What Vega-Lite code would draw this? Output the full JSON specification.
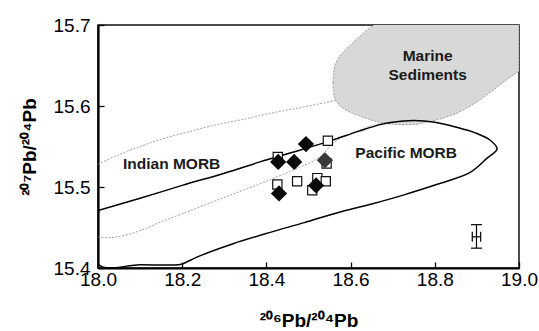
{
  "$schema": "https://vega.github.io/schema/vega-lite/v6.json",
  "width": 421,
  "height": 243,
  "autosize": {"type": "none"},
  "padding": {"left": 98, "top": 25, "right": 20, "bottom": 63},
  "background": "white",
  "config": {
    "view": {"stroke": "#111", "strokeWidth": 1.5},
    "axis": {
      "grid": false,
      "domainColor": "#000",
      "domainWidth": 2.2,
      "tickColor": "#000",
      "tickWidth": 1.3,
      "tickSize": -6,
      "labelFont": "Liberation Sans",
      "labelFontSize": 19,
      "labelColor": "#000",
      "titleFont": "Liberation Sans",
      "titleFontSize": 19,
      "titleFontWeight": "bold",
      "titleColor": "#000",
      "labelFlush": false,
      "labelOverlap": false
    }
  },
  "datasets": {
    "blob": [
      {"x": 18.558, "y": 15.629, "y2": 15.629},
      {"x": 18.561, "y": 15.612, "y2": 15.646},
      {"x": 18.570, "y": 15.603, "y2": 15.658},
      {"x": 18.585, "y": 15.596, "y2": 15.668},
      {"x": 18.605, "y": 15.591, "y2": 15.678},
      {"x": 18.630, "y": 15.586, "y2": 15.690},
      {"x": 18.660, "y": 15.581, "y2": 15.702},
      {"x": 18.690, "y": 15.578, "y2": 15.715},
      {"x": 18.720, "y": 15.577, "y2": 15.720},
      {"x": 18.750, "y": 15.577, "y2": 15.720},
      {"x": 18.780, "y": 15.580, "y2": 15.720},
      {"x": 18.820, "y": 15.585, "y2": 15.720},
      {"x": 18.860, "y": 15.593, "y2": 15.720},
      {"x": 18.900, "y": 15.605, "y2": 15.720},
      {"x": 18.940, "y": 15.620, "y2": 15.720},
      {"x": 18.970, "y": 15.632, "y2": 15.720},
      {"x": 19.000, "y": 15.643, "y2": 15.720}
    ],
    "curves": [
      {"curve": "Indian upper", "i": 1, "x": 18.0, "y": 15.528},
      {"curve": "Indian upper", "i": 2, "x": 18.05, "y": 15.540},
      {"curve": "Indian upper", "i": 3, "x": 18.1, "y": 15.550},
      {"curve": "Indian upper", "i": 4, "x": 18.15, "y": 15.559},
      {"curve": "Indian upper", "i": 5, "x": 18.2, "y": 15.566},
      {"curve": "Indian upper", "i": 6, "x": 18.25, "y": 15.573},
      {"curve": "Indian upper", "i": 7, "x": 18.3, "y": 15.579},
      {"curve": "Indian upper", "i": 8, "x": 18.35, "y": 15.584},
      {"curve": "Indian upper", "i": 9, "x": 18.4, "y": 15.590},
      {"curve": "Indian upper", "i": 10, "x": 18.45, "y": 15.595},
      {"curve": "Indian upper", "i": 11, "x": 18.5, "y": 15.600},
      {"curve": "Indian upper", "i": 12, "x": 18.565, "y": 15.607},
      {"curve": "Indian lower", "i": 1, "x": 18.0, "y": 15.438},
      {"curve": "Indian lower", "i": 2, "x": 18.04, "y": 15.438},
      {"curve": "Indian lower", "i": 3, "x": 18.1, "y": 15.446},
      {"curve": "Indian lower", "i": 4, "x": 18.15, "y": 15.457},
      {"curve": "Indian lower", "i": 5, "x": 18.2, "y": 15.467},
      {"curve": "Indian lower", "i": 6, "x": 18.25, "y": 15.477},
      {"curve": "Indian lower", "i": 7, "x": 18.314, "y": 15.490},
      {"curve": "Indian lower", "i": 8, "x": 18.385, "y": 15.504},
      {"curve": "Indian lower", "i": 9, "x": 18.45, "y": 15.518},
      {"curve": "Indian lower", "i": 10, "x": 18.527, "y": 15.537},
      {"curve": "Indian lower", "i": 11, "x": 18.558, "y": 15.554},
      {"curve": "Indian lower", "i": 12, "x": 18.6, "y": 15.566},
      {"curve": "Indian lower", "i": 13, "x": 18.654, "y": 15.576},
      {"curve": "Indian lower", "i": 14, "x": 18.70, "y": 15.581},
      {"curve": "Pacific", "i": 1, "x": 18.0, "y": 15.471},
      {"curve": "Pacific", "i": 2, "x": 18.1, "y": 15.486},
      {"curve": "Pacific", "i": 3, "x": 18.2, "y": 15.502},
      {"curve": "Pacific", "i": 4, "x": 18.3, "y": 15.517},
      {"curve": "Pacific", "i": 5, "x": 18.385, "y": 15.531},
      {"curve": "Pacific", "i": 6, "x": 18.45, "y": 15.541},
      {"curve": "Pacific", "i": 7, "x": 18.546, "y": 15.556},
      {"curve": "Pacific", "i": 8, "x": 18.62, "y": 15.569},
      {"curve": "Pacific", "i": 9, "x": 18.67, "y": 15.577},
      {"curve": "Pacific", "i": 10, "x": 18.70, "y": 15.580},
      {"curve": "Pacific", "i": 11, "x": 18.75, "y": 15.582},
      {"curve": "Pacific", "i": 12, "x": 18.80, "y": 15.580},
      {"curve": "Pacific", "i": 13, "x": 18.85, "y": 15.574},
      {"curve": "Pacific", "i": 14, "x": 18.90, "y": 15.566},
      {"curve": "Pacific", "i": 15, "x": 18.931, "y": 15.558},
      {"curve": "Pacific", "i": 16, "x": 18.948, "y": 15.547},
      {"curve": "Pacific", "i": 17, "x": 18.925, "y": 15.536},
      {"curve": "Pacific", "i": 18, "x": 18.884, "y": 15.518},
      {"curve": "Pacific", "i": 19, "x": 18.804, "y": 15.503},
      {"curve": "Pacific", "i": 20, "x": 18.725, "y": 15.490},
      {"curve": "Pacific", "i": 21, "x": 18.65, "y": 15.479},
      {"curve": "Pacific", "i": 22, "x": 18.567, "y": 15.468},
      {"curve": "Pacific", "i": 23, "x": 18.49, "y": 15.456},
      {"curve": "Pacific", "i": 24, "x": 18.409, "y": 15.444},
      {"curve": "Pacific", "i": 25, "x": 18.321, "y": 15.430},
      {"curve": "Pacific", "i": 26, "x": 18.242, "y": 15.415},
      {"curve": "Pacific", "i": 27, "x": 18.20, "y": 15.405},
      {"curve": "Pacific", "i": 28, "x": 18.19, "y": 15.404},
      {"curve": "Pacific", "i": 29, "x": 18.10, "y": 15.404},
      {"curve": "Pacific", "i": 30, "x": 18.002, "y": 15.404},
      {"curve": "Pacific", "i": 31, "x": 18.002, "y": 15.471}
    ],
    "samples": [
      {"x": 18.546, "y": 15.557, "type": "open"},
      {"x": 18.543, "y": 15.529, "type": "open"},
      {"x": 18.427, "y": 15.537, "type": "open"},
      {"x": 18.426, "y": 15.503, "type": "open"},
      {"x": 18.473, "y": 15.507, "type": "open"},
      {"x": 18.521, "y": 15.511, "type": "open"},
      {"x": 18.541, "y": 15.507, "type": "open"},
      {"x": 18.509, "y": 15.496, "type": "open"},
      {"x": 18.494, "y": 15.553, "type": "filled"},
      {"x": 18.428, "y": 15.531, "type": "filled"},
      {"x": 18.466, "y": 15.531, "type": "filled"},
      {"x": 18.539, "y": 15.533, "type": "filled (grey)"},
      {"x": 18.430, "y": 15.492, "type": "filled"},
      {"x": 18.518, "y": 15.502, "type": "filled"}
    ],
    "errbar": [
      {"part": "v", "x": 18.899, "y": 15.4245, "y2": 15.4535},
      {"part": "h", "x": 18.889, "x2": 18.909, "y": 15.4385}
    ],
    "errcaps": [
      {"part": "ycap", "x": 18.899, "y": 15.4535},
      {"part": "ycap", "x": 18.899, "y": 15.4245},
      {"part": "xcap", "x": 18.889, "y": 15.4385},
      {"part": "xcap", "x": 18.909, "y": 15.4385}
    ],
    "labels": [
      {"x": 18.175, "y": 15.528, "label": "Indian MORB"},
      {"x": 18.732, "y": 15.542, "label": "Pacific MORB"},
      {"x": 18.783, "y": 15.662, "label": "Marine"},
      {"x": 18.783, "y": 15.638, "label": "Sediments"}
    ]
  },
  "encoding": {
    "x": {
      "field": "x", "type": "quantitative",
      "scale": {"domain": [18, 19], "nice": false, "zero": false},
      "axis": {"title": "²⁰⁶Pb/²⁰⁴Pb", "values": [18, 18.2, 18.4, 18.6, 18.8, 19], "format": ".1f", "labelPadding": 8, "titlePadding": 22}
    },
    "y": {
      "field": "y", "type": "quantitative",
      "scale": {"domain": [15.4, 15.7], "nice": false, "zero": false},
      "axis": {"title": "²⁰⁷Pb/²⁰⁴Pb", "values": [15.4, 15.5, 15.6, 15.7], "format": ".1f", "labelPadding": 14, "titlePadding": 14}
    }
  },
  "layer": [
    {
      "data": {"name": "blob"},
      "mark": {"type": "area", "interpolate": "monotone", "clip": true, "fill": "#d8d8d8", "fillOpacity": 1, "stroke": "#8a8a8a", "strokeWidth": 0.8, "strokeDash": [2, 1.5]},
      "encoding": {"y2": {"field": "y2"}}
    },
    {
      "data": {"name": "curves"},
      "transform": [{"filter": "datum.curve !== 'Pacific'"}],
      "mark": {"type": "line", "interpolate": "catmull-rom", "clip": true, "color": "#8a8a8a", "strokeWidth": 0.8, "strokeDash": [2, 1.5]},
      "encoding": {"detail": {"field": "curve"}, "order": {"field": "i", "type": "quantitative"}}
    },
    {
      "data": {"name": "curves"},
      "transform": [{"filter": "datum.curve === 'Pacific'"}],
      "mark": {"type": "line", "interpolate": "catmull-rom", "clip": true, "color": "#000", "strokeWidth": 1.5},
      "encoding": {"order": {"field": "i", "type": "quantitative"}}
    },
    {
      "data": {"name": "samples"},
      "transform": [{"filter": "datum.type === 'open'"}],
      "mark": {"type": "point", "shape": "square", "size": 85, "filled": false, "fill": "#fff", "fillOpacity": 1, "stroke": "#111", "strokeWidth": 1.2, "opacity": 1}
    },
    {
      "data": {"name": "samples"},
      "transform": [{"filter": "datum.type !== 'open'"}],
      "mark": {"type": "point", "shape": "diamond", "size": 265, "filled": true, "opacity": 1, "strokeWidth": 0},
      "encoding": {
        "color": {"field": "type", "type": "nominal", "scale": {"domain": ["filled", "filled (grey)"], "range": ["#0a0a0a", "#383838"]}, "legend": null}
      }
    },
    {
      "data": {"name": "errbar"},
      "transform": [{"filter": "datum.part === 'v'"}],
      "mark": {"type": "rule", "color": "#000", "strokeWidth": 1.2},
      "encoding": {"y2": {"field": "y2"}}
    },
    {
      "data": {"name": "errbar"},
      "transform": [{"filter": "datum.part === 'h'"}],
      "mark": {"type": "rule", "color": "#000", "strokeWidth": 1.2},
      "encoding": {"x2": {"field": "x2"}}
    },
    {
      "data": {"name": "errcaps"},
      "transform": [{"filter": "datum.part === 'ycap'"}],
      "mark": {"type": "tick", "orient": "horizontal", "size": 11, "thickness": 1.2, "color": "#000", "opacity": 1}
    },
    {
      "data": {"name": "errcaps"},
      "transform": [{"filter": "datum.part === 'xcap'"}],
      "mark": {"type": "tick", "orient": "vertical", "size": 10, "thickness": 1.2, "color": "#000", "opacity": 1}
    },
    {
      "data": {"name": "labels"},
      "mark": {"type": "text", "font": "Liberation Sans", "fontSize": 15.5, "fontWeight": "bold", "color": "#1a1a1a", "align": "center", "baseline": "middle"},
      "encoding": {"text": {"field": "label"}}
    }
  ]
}
